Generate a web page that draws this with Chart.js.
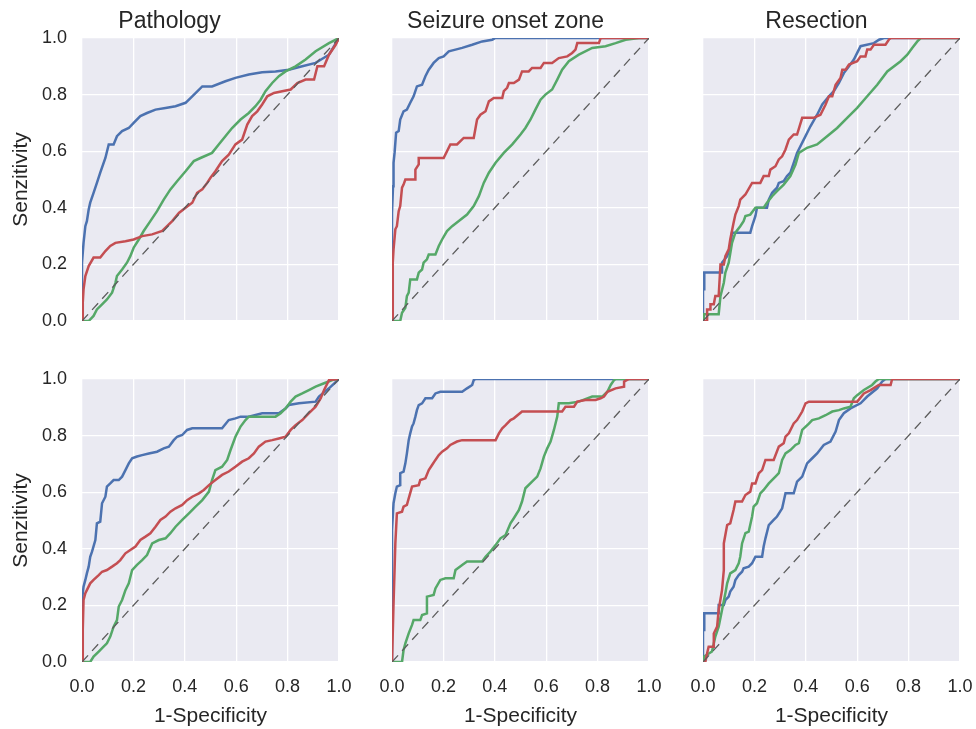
<!DOCTYPE html>
<html>
<head>
<meta charset="utf-8">
<script src="https://cdn.jsdelivr.net/npm/chart.js@4.4.1/dist/chart.umd.min.js"></script>
<style>
  html, body { margin: 0; padding: 0; background: #ffffff; }
  #fig { position: relative; width: 976px; height: 729px; overflow: hidden; }
  .panel { position: absolute; }
  .panel canvas { display: block; }
</style>
</head>
<body>
<div id="fig"></div>
<script>
// ---- Labels -------------------------------------------------------------
const panelTitles = ['Pathology', 'Seizure onset zone', 'Resection'];
const axisTicks = [0, 0.2, 0.4, 0.6, 0.8, 1.0];
const tickLabels = ['0.0', '0.2', '0.4', '0.6', '0.8', '1.0'];
const xAxisLabel = '1-Specificity';
const yAxisLabel = 'Senzitivity';

// ---- Chance diagonal ----------------------------------------------------
const chanceLine = [[0, 0], [1, 1]];

// ---- ROC curves, upper row ([1-specificity, sensitivity]) ----------------
const pathologyUpperBlue = [[0,0],[0,0.206],[0.006,0.276],[0.013,0.335],[0.019,0.353],[0.026,0.394],[0.032,0.418],[0.045,0.453],[0.058,0.488],[0.071,0.524],[0.091,0.576],[0.104,0.624],[0.123,0.624],[0.136,0.653],[0.156,0.671],[0.182,0.682],[0.201,0.7],[0.227,0.724],[0.253,0.735],[0.286,0.747],[0.325,0.753],[0.364,0.759],[0.403,0.771],[0.429,0.794],[0.468,0.829],[0.506,0.829],[0.558,0.847],[0.597,0.859],[0.649,0.871],[0.701,0.879],[0.753,0.882],[0.805,0.888],[0.857,0.9],[0.909,0.912],[0.961,0.941],[1,1]];
const pathologyUpperGreen = [[0,0],[0.026,0],[0.045,0.018],[0.058,0.041],[0.078,0.059],[0.097,0.076],[0.117,0.1],[0.130,0.135],[0.136,0.159],[0.156,0.182],[0.175,0.206],[0.188,0.229],[0.201,0.259],[0.221,0.288],[0.240,0.318],[0.266,0.353],[0.292,0.388],[0.318,0.429],[0.344,0.465],[0.370,0.494],[0.403,0.529],[0.435,0.565],[0.461,0.576],[0.506,0.594],[0.532,0.624],[0.558,0.653],[0.584,0.682],[0.617,0.712],[0.649,0.735],[0.675,0.759],[0.695,0.782],[0.714,0.812],[0.740,0.841],[0.766,0.865],[0.792,0.882],[0.831,0.9],[0.870,0.924],[0.909,0.953],[0.961,0.982],[1,1]];
const pathologyUpperRed = [[0,0],[0.003,0.065],[0.006,0.112],[0.013,0.159],[0.026,0.194],[0.045,0.224],[0.071,0.224],[0.091,0.247],[0.110,0.265],[0.130,0.276],[0.169,0.282],[0.201,0.288],[0.234,0.3],[0.273,0.306],[0.312,0.318],[0.331,0.335],[0.351,0.353],[0.377,0.382],[0.403,0.4],[0.429,0.418],[0.448,0.453],[0.468,0.465],[0.487,0.488],[0.5,0.506],[0.519,0.529],[0.545,0.565],[0.571,0.588],[0.597,0.624],[0.623,0.641],[0.643,0.694],[0.662,0.724],[0.682,0.741],[0.701,0.765],[0.721,0.794],[0.747,0.806],[0.779,0.812],[0.812,0.818],[0.838,0.841],[0.870,0.853],[0.903,0.853],[0.916,0.9],[0.942,0.9],[0.961,0.941],[0.987,0.976],[1,1]];

const onsetUpperBlue = [[0,0],[0,0.382],[0.004,0.476],[0.006,0.559],[0.010,0.594],[0.016,0.665],[0.026,0.671],[0.032,0.712],[0.045,0.741],[0.058,0.747],[0.071,0.771],[0.084,0.794],[0.097,0.829],[0.117,0.835],[0.130,0.865],[0.143,0.888],[0.162,0.912],[0.182,0.929],[0.201,0.935],[0.221,0.953],[0.247,0.959],[0.273,0.965],[0.312,0.976],[0.351,0.988],[0.390,0.994],[0.403,1],[1,1]];
const onsetUpperGreen = [[0,0],[0.032,0],[0.039,0.029],[0.052,0.047],[0.058,0.088],[0.065,0.1],[0.071,0.147],[0.097,0.147],[0.104,0.171],[0.117,0.182],[0.123,0.206],[0.136,0.218],[0.143,0.235],[0.169,0.235],[0.182,0.265],[0.195,0.288],[0.214,0.318],[0.234,0.335],[0.260,0.353],[0.292,0.376],[0.318,0.406],[0.338,0.441],[0.357,0.488],[0.377,0.524],[0.403,0.559],[0.435,0.594],[0.468,0.624],[0.5,0.659],[0.519,0.682],[0.539,0.712],[0.558,0.747],[0.578,0.782],[0.597,0.8],[0.623,0.818],[0.643,0.853],[0.662,0.888],[0.688,0.918],[0.727,0.941],[0.779,0.965],[0.831,0.971],[0.870,0.982],[0.909,0.994],[0.961,1],[1,1]];
const onsetUpperRed = [[0,0],[0.003,0.206],[0.006,0.253],[0.013,0.324],[0.019,0.335],[0.026,0.388],[0.032,0.406],[0.039,0.471],[0.045,0.482],[0.052,0.5],[0.091,0.5],[0.091,0.535],[0.104,0.553],[0.104,0.576],[0.201,0.576],[0.227,0.624],[0.253,0.624],[0.279,0.647],[0.318,0.647],[0.331,0.712],[0.344,0.729],[0.364,0.741],[0.377,0.776],[0.396,0.788],[0.429,0.788],[0.435,0.812],[0.448,0.824],[0.455,0.841],[0.474,0.841],[0.494,0.853],[0.506,0.882],[0.532,0.882],[0.545,0.894],[0.578,0.894],[0.591,0.912],[0.623,0.912],[0.649,0.929],[0.682,0.935],[0.701,0.947],[0.714,0.959],[0.721,0.982],[0.805,0.982],[0.812,1],[1,1]];

const resectionUpperBlue = [[0,0],[0,0.112],[0.005,0.112],[0.005,0.171],[0.074,0.171],[0.074,0.206],[0.094,0.229],[0.106,0.259],[0.113,0.312],[0.184,0.312],[0.191,0.335],[0.204,0.371],[0.210,0.4],[0.249,0.4],[0.256,0.429],[0.269,0.453],[0.288,0.471],[0.295,0.488],[0.314,0.494],[0.327,0.512],[0.340,0.524],[0.353,0.559],[0.366,0.594],[0.392,0.641],[0.418,0.688],[0.444,0.729],[0.464,0.765],[0.490,0.794],[0.509,0.812],[0.529,0.841],[0.548,0.876],[0.568,0.9],[0.587,0.924],[0.613,0.971],[0.665,0.982],[0.685,0.994],[0.704,1],[1,1]];
const resectionUpperGreen = [[0,0],[0.003,0.024],[0.061,0.024],[0.068,0.088],[0.081,0.135],[0.087,0.171],[0.1,0.206],[0.113,0.276],[0.126,0.312],[0.145,0.335],[0.158,0.353],[0.165,0.371],[0.184,0.376],[0.204,0.4],[0.236,0.4],[0.249,0.418],[0.269,0.441],[0.288,0.459],[0.314,0.482],[0.340,0.512],[0.360,0.553],[0.373,0.594],[0.405,0.612],[0.444,0.624],[0.483,0.653],[0.522,0.682],[0.561,0.718],[0.6,0.753],[0.639,0.794],[0.678,0.835],[0.717,0.882],[0.769,0.918],[0.795,0.941],[0.814,0.965],[0.834,0.988],[0.847,1],[1,1]];
const resectionUpperRed = [[0,0],[0.016,0],[0.016,0.041],[0.029,0.041],[0.029,0.059],[0.042,0.059],[0.048,0.088],[0.061,0.088],[0.068,0.2],[0.081,0.2],[0.087,0.229],[0.1,0.253],[0.106,0.288],[0.119,0.347],[0.126,0.376],[0.139,0.406],[0.145,0.429],[0.165,0.447],[0.191,0.488],[0.223,0.488],[0.236,0.512],[0.256,0.512],[0.262,0.535],[0.282,0.547],[0.295,0.571],[0.308,0.582],[0.321,0.606],[0.334,0.641],[0.353,0.659],[0.366,0.659],[0.386,0.718],[0.431,0.718],[0.457,0.729],[0.477,0.765],[0.490,0.794],[0.503,0.794],[0.516,0.835],[0.535,0.859],[0.542,0.888],[0.555,0.888],[0.568,0.906],[0.6,0.918],[0.613,0.935],[0.632,0.935],[0.639,0.959],[0.652,0.959],[0.665,0.976],[0.710,0.976],[0.723,0.994],[0.730,1],[1,1]];

// ---- ROC curves, lower row ----------------------------------------------
const pathologyLowerBlue = [[0,0],[0,0.219],[0.006,0.266],[0.013,0.29],[0.019,0.313],[0.026,0.337],[0.032,0.372],[0.039,0.39],[0.052,0.431],[0.058,0.49],[0.071,0.496],[0.078,0.561],[0.091,0.584],[0.097,0.62],[0.110,0.631],[0.123,0.643],[0.143,0.643],[0.156,0.655],[0.169,0.678],[0.182,0.702],[0.195,0.72],[0.214,0.726],[0.234,0.731],[0.260,0.737],[0.292,0.743],[0.318,0.755],[0.338,0.761],[0.357,0.784],[0.370,0.796],[0.390,0.802],[0.409,0.82],[0.429,0.826],[0.545,0.826],[0.571,0.855],[0.597,0.861],[0.617,0.867],[0.649,0.867],[0.701,0.879],[0.766,0.879],[0.792,0.896],[0.805,0.908],[0.844,0.914],[0.909,0.92],[0.922,0.938],[0.961,0.967],[1,1]];
const pathologyLowerGreen = [[0,0],[0.032,0],[0.045,0.019],[0.065,0.037],[0.084,0.054],[0.097,0.066],[0.110,0.09],[0.123,0.125],[0.136,0.148],[0.143,0.196],[0.156,0.219],[0.169,0.254],[0.182,0.278],[0.195,0.325],[0.214,0.343],[0.234,0.36],[0.253,0.378],[0.273,0.419],[0.299,0.431],[0.325,0.437],[0.344,0.455],[0.364,0.478],[0.390,0.502],[0.416,0.525],[0.442,0.549],[0.468,0.572],[0.494,0.602],[0.506,0.643],[0.519,0.678],[0.545,0.69],[0.565,0.714],[0.578,0.749],[0.597,0.796],[0.617,0.832],[0.636,0.855],[0.649,0.867],[0.753,0.867],[0.773,0.879],[0.792,0.896],[0.812,0.92],[0.831,0.938],[0.857,0.949],[0.883,0.961],[0.909,0.973],[0.942,0.985],[0.974,0.996],[1,1]];
const pathologyLowerRed = [[0,0],[0.003,0.113],[0.006,0.219],[0.013,0.243],[0.019,0.254],[0.032,0.278],[0.045,0.29],[0.065,0.307],[0.078,0.319],[0.097,0.325],[0.117,0.337],[0.136,0.349],[0.149,0.36],[0.169,0.384],[0.188,0.396],[0.208,0.408],[0.227,0.431],[0.247,0.443],[0.266,0.455],[0.286,0.478],[0.305,0.502],[0.325,0.514],[0.344,0.531],[0.364,0.543],[0.390,0.555],[0.409,0.572],[0.429,0.584],[0.455,0.596],[0.474,0.608],[0.494,0.625],[0.519,0.643],[0.545,0.661],[0.571,0.673],[0.597,0.69],[0.623,0.708],[0.649,0.72],[0.669,0.737],[0.688,0.761],[0.714,0.779],[0.740,0.784],[0.766,0.79],[0.792,0.796],[0.812,0.82],[0.831,0.837],[0.857,0.855],[0.883,0.879],[0.909,0.902],[0.929,0.932],[0.942,0.961],[0.961,0.996],[1,1]];

const onsetLowerBlue = [[0,0],[0,0.466],[0.006,0.561],[0.013,0.596],[0.019,0.62],[0.032,0.625],[0.032,0.667],[0.045,0.673],[0.052,0.702],[0.058,0.737],[0.065,0.784],[0.071,0.808],[0.078,0.832],[0.084,0.843],[0.091,0.867],[0.097,0.89],[0.104,0.908],[0.117,0.914],[0.130,0.932],[0.156,0.932],[0.169,0.949],[0.188,0.955],[0.273,0.955],[0.292,0.967],[0.312,0.979],[0.318,0.996],[0.325,1],[1,1]];
const onsetLowerGreen = [[0,0],[0.039,0],[0.045,0.042],[0.052,0.066],[0.065,0.101],[0.078,0.131],[0.084,0.148],[0.110,0.148],[0.117,0.166],[0.136,0.172],[0.136,0.231],[0.162,0.237],[0.169,0.26],[0.188,0.29],[0.208,0.296],[0.240,0.296],[0.247,0.325],[0.273,0.343],[0.292,0.355],[0.351,0.355],[0.364,0.372],[0.383,0.39],[0.403,0.413],[0.422,0.437],[0.442,0.449],[0.461,0.49],[0.474,0.508],[0.494,0.537],[0.506,0.567],[0.519,0.614],[0.545,0.637],[0.565,0.655],[0.578,0.684],[0.591,0.726],[0.604,0.755],[0.617,0.779],[0.630,0.82],[0.643,0.867],[0.649,0.914],[0.688,0.914],[0.727,0.92],[0.779,0.938],[0.818,0.938],[0.838,0.955],[0.851,0.979],[0.864,0.996],[0.870,1],[1,1]];
const onsetLowerRed = [[0,0],[0.006,0.207],[0.010,0.325],[0.013,0.419],[0.019,0.525],[0.039,0.531],[0.045,0.549],[0.058,0.555],[0.065,0.578],[0.078,0.62],[0.104,0.625],[0.110,0.643],[0.130,0.649],[0.143,0.678],[0.156,0.696],[0.169,0.714],[0.182,0.731],[0.195,0.743],[0.214,0.755],[0.227,0.767],[0.253,0.779],[0.273,0.784],[0.403,0.784],[0.416,0.808],[0.429,0.826],[0.442,0.837],[0.461,0.855],[0.474,0.861],[0.506,0.885],[0.662,0.885],[0.675,0.902],[0.708,0.902],[0.721,0.92],[0.753,0.926],[0.792,0.926],[0.812,0.932],[0.825,0.938],[0.838,0.955],[0.870,0.967],[0.903,0.973],[0.903,0.991],[0.922,1],[1,1]];

const resectionLowerBlue = [[0,0],[0,0.113],[0.005,0.113],[0.005,0.172],[0.061,0.172],[0.061,0.201],[0.081,0.201],[0.087,0.219],[0.1,0.231],[0.106,0.249],[0.119,0.266],[0.126,0.29],[0.139,0.307],[0.152,0.319],[0.158,0.331],[0.178,0.337],[0.191,0.349],[0.204,0.372],[0.230,0.372],[0.236,0.408],[0.243,0.437],[0.256,0.484],[0.275,0.502],[0.288,0.514],[0.308,0.543],[0.321,0.596],[0.353,0.596],[0.366,0.637],[0.386,0.655],[0.405,0.702],[0.425,0.72],[0.444,0.737],[0.470,0.767],[0.496,0.779],[0.516,0.814],[0.529,0.855],[0.548,0.879],[0.574,0.896],[0.613,0.914],[0.639,0.938],[0.678,0.967],[0.697,0.991],[0.710,1],[1,1]];
const resectionLowerGreen = [[0,0],[0.003,0.019],[0.035,0.037],[0.048,0.09],[0.061,0.125],[0.074,0.184],[0.087,0.243],[0.094,0.278],[0.106,0.313],[0.126,0.325],[0.139,0.349],[0.145,0.372],[0.152,0.419],[0.165,0.455],[0.178,0.461],[0.191,0.514],[0.197,0.549],[0.210,0.561],[0.223,0.596],[0.236,0.608],[0.256,0.631],[0.282,0.655],[0.295,0.667],[0.308,0.714],[0.321,0.737],[0.340,0.749],[0.360,0.767],[0.373,0.773],[0.386,0.82],[0.412,0.842],[0.425,0.855],[0.451,0.861],[0.477,0.872],[0.503,0.885],[0.529,0.89],[0.548,0.896],[0.574,0.902],[0.587,0.932],[0.6,0.943],[0.626,0.961],[0.658,0.979],[0.671,0.991],[0.684,1],[1,1]];
const resectionLowerRed = [[0,0],[0.009,0],[0.016,0.031],[0.022,0.054],[0.042,0.054],[0.042,0.101],[0.055,0.125],[0.061,0.184],[0.074,0.254],[0.081,0.325],[0.081,0.419],[0.094,0.484],[0.106,0.49],[0.119,0.537],[0.126,0.567],[0.152,0.567],[0.165,0.59],[0.184,0.602],[0.191,0.631],[0.204,0.631],[0.217,0.667],[0.230,0.678],[0.243,0.714],[0.275,0.714],[0.295,0.761],[0.314,0.773],[0.321,0.796],[0.334,0.808],[0.353,0.843],[0.366,0.855],[0.386,0.885],[0.399,0.914],[0.412,0.92],[0.6,0.92],[0.626,0.949],[0.652,0.961],[0.684,0.979],[0.730,0.979],[0.736,1],[1,1]];

// ---- Grid of panels: [row][col] -> curves -------------------------------
const panelCurves = [
  [
    { blue: pathologyUpperBlue, green: pathologyUpperGreen, red: pathologyUpperRed },
    { blue: onsetUpperBlue,     green: onsetUpperGreen,     red: onsetUpperRed },
    { blue: resectionUpperBlue, green: resectionUpperGreen, red: resectionUpperRed }
  ],
  [
    { blue: pathologyLowerBlue, green: pathologyLowerGreen, red: pathologyLowerRed },
    { blue: onsetLowerBlue,     green: onsetLowerGreen,     red: onsetLowerRed },
    { blue: resectionLowerBlue, green: resectionLowerGreen, red: resectionLowerRed }
  ]
];

// ---- Style & geometry ---------------------------------------------------
const FONT = '"Liberation Sans", Arial, Helvetica, sans-serif';
const INK = '#262626';
const BLUE = '#4C72B0', GREEN = '#55A868', RED = '#C44E52';
const PLOT_BG = '#EAEAF2';

const PLOT_W = 257, PLOT_H = 283;
const colLeft = [82, 392, 703];
const rowTop = [38, 379];
// reserved margins are wider than the tick-label overflow Chart.js asks for,
// so every plotting rectangle lands on the same grid
const yAxisW = [82, 30, 30];
const xAxisH = [30, 67];
const topSpace = [38, 30];
const PAD_R = 30;

// fills the plotting rectangle before grid and curves are drawn
const plotBackground = {
  id: 'plotBackground',
  beforeDraw(chart) {
    const { ctx, chartArea: a } = chart;
    ctx.save();
    ctx.fillStyle = PLOT_BG;
    ctx.fillRect(a.left, a.top, a.right - a.left, a.bottom - a.top);
    ctx.restore();
  }
};

const fig = document.getElementById('fig');

function lineSet(points, color) {
  return {
    data: points,
    borderColor: color,
    borderWidth: 2.5,
    pointRadius: 0,
    tension: 0,
    fill: false,
    clip: 0
  };
}

for (let r = 0; r < 2; r++) {
  for (let c = 0; c < 3; c++) {
    const w = yAxisW[c] + PLOT_W + PAD_R;
    const h = topSpace[r] + PLOT_H + xAxisH[r];
    const holder = document.createElement('div');
    holder.className = 'panel';
    holder.style.left = (colLeft[c] - yAxisW[c]) + 'px';
    holder.style.top = (rowTop[r] - topSpace[r]) + 'px';
    holder.style.width = w + 'px';
    holder.style.height = h + 'px';
    const canvas = document.createElement('canvas');
    canvas.width = w;
    canvas.height = h;
    canvas.style.width = w + 'px';
    canvas.style.height = h + 'px';
    holder.appendChild(canvas);
    fig.appendChild(holder);

    const curves = panelCurves[r][c];
    const showXTicks = r === 1;
    const showYTicks = c === 0;

    new Chart(canvas, {
      type: 'line',
      data: {
        datasets: [
          {
            data: chanceLine,
            borderColor: '#5c5c5c',
            borderWidth: 1.3,
            borderDash: [9, 6],
            pointRadius: 0,
            fill: false,
            clip: 0
          },
          lineSet(curves.red, RED),
          lineSet(curves.green, GREEN),
          lineSet(curves.blue, BLUE)
        ]
      },
      options: {
        responsive: false,
        maintainAspectRatio: false,
        devicePixelRatio: 1,
        animation: false,
        events: [],
        layout: { padding: { top: r === 0 ? 0 : topSpace[r], right: PAD_R, bottom: 0, left: 0 } },
        plugins: {
          legend: { display: false },
          tooltip: { enabled: false },
          title: {
            display: r === 0,
            text: panelTitles[c],
            color: INK,
            font: { family: FONT, size: 23, weight: 'normal', lineHeight: 1.2 },
            padding: { top: 7.5, bottom: 2.9 }
          }
        },
        scales: {
          x: {
            type: 'linear',
            position: 'bottom',
            min: 0,
            max: 1,
            border: { display: false },
            grid: { color: '#ffffff', lineWidth: 1.3, drawTicks: false },
            afterBuildTicks: s => { s.ticks = axisTicks.map(v => ({ value: v })); },
            ticks: {
              display: showXTicks,
              autoSkip: false,
              maxRotation: 0,
              padding: 14,
              color: INK,
              font: { family: FONT, size: 18 },
              callback: (v, i) => tickLabels[i]
            },
            title: {
              display: showXTicks,
              text: xAxisLabel,
              color: INK,
              font: { family: FONT, size: 21 },
              padding: { top: 0, bottom: 0.4 }
            },
            afterFit: s => { s.height = xAxisH[r]; }
          },
          y: {
            type: 'linear',
            position: 'left',
            min: 0,
            max: 1,
            border: { display: false },
            grid: { color: '#ffffff', lineWidth: 1.3, drawTicks: false },
            afterBuildTicks: s => { s.ticks = axisTicks.map(v => ({ value: v })); },
            ticks: {
              display: showYTicks,
              autoSkip: false,
              padding: 15,
              color: INK,
              font: { family: FONT, size: 18 },
              callback: (v, i) => tickLabels[i]
            },
            title: {
              display: showYTicks,
              text: yAxisLabel,
              color: INK,
              font: { family: FONT, size: 21 },
              padding: { top: 8.4, bottom: 0 }
            },
            afterFit: s => { s.width = yAxisW[c]; }
          }
        }
      },
      plugins: [plotBackground]
    });
  }
}
</script>
</body>
</html>
